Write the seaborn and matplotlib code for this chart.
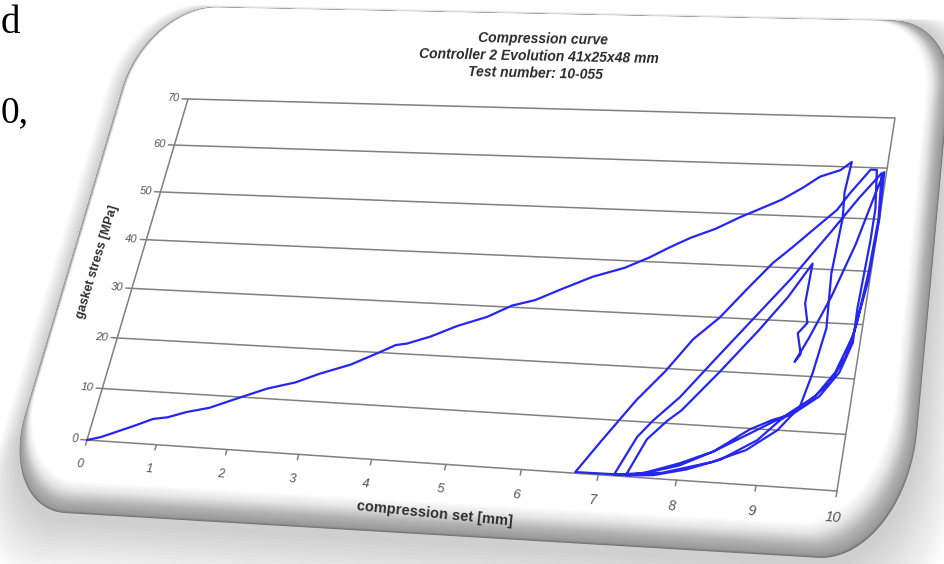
import numpy as np
import pandas as pd
import matplotlib
matplotlib.use("Agg")
import matplotlib.pyplot as plt
from matplotlib.transforms import Transform, Affine2D
from matplotlib.patches import Polygon
import seaborn as sns

# ---------------------------------------------------------------------------
# Compression test record: compression set [mm] and gasket stress [MPa],
# one list pair per step of the test, in test order.
# ---------------------------------------------------------------------------
load_1_x = [0.0, 0.18, 0.6, 0.85, 1.05, 1.29, 1.6, 1.9, 2.33, 2.7, 3.0, 3.4, 3.76,
            3.95, 4.1, 4.4, 4.73, 5.1, 5.4, 5.7, 6.0, 6.4, 6.8, 7.1, 7.35, 7.6,
            7.9, 8.2, 8.5, 8.7, 8.95, 9.15, 9.4, 9.53]
load_1_y = [0.0, 0.7, 3.2, 4.8, 5.3, 6.5, 7.6, 9.4, 11.9, 13.4, 15.3, 17.4, 20.1,
            21.6, 22.0, 23.6, 25.9, 27.9, 30.3, 31.6, 33.8, 36.6, 38.6, 40.8, 43.0,
            45.0, 46.9, 49.4, 51.6, 53.1, 55.6, 57.9, 59.3, 61.0]

unload_1_x = [9.53, 9.50, 9.53, 9.50, 9.55, 9.47, 9.38, 9.15, 8.80, 8.40, 7.80, 7.30, 6.70]
unload_1_y = [61.0, 55.0, 50.0, 39.3, 29.0, 20.7, 14.5, 10.0, 6.1, 3.6, 1.1, 0.3, 0.2]

reload_1_x = [6.70, 6.94, 7.30, 7.60, 7.88, 8.17, 8.45, 8.73, 8.95, 9.17, 9.44, 9.57, 9.79]
reload_1_y = [0.2, 5.8, 13.9, 19.5, 25.7, 30.0, 35.5, 40.8, 44.0, 47.4, 51.5, 54.8, 59.6]

unload_2_x = [9.79, 9.87, 9.93, 9.93, 9.90, 9.91, 9.80, 9.60, 9.30, 9.07, 8.80, 8.40,
              8.00, 7.60, 7.20]
unload_2_y = [59.6, 59.6, 52.0, 45.8, 33.0, 26.6, 21.0, 16.5, 13.0, 11.8, 9.8, 5.5,
              2.6, 0.9, 0.2]

reload_2_x = [7.20, 7.40, 7.56, 7.85, 8.20, 8.60, 9.00, 9.40, 9.70, 9.94]
reload_2_y = [0.2, 7.2, 10.3, 14.9, 22.0, 30.0, 38.0, 47.0, 54.0, 59.0]

unload_3_x = [9.94, 9.99, 9.97, 9.92, 9.85, 9.70, 9.45, 9.16, 8.92, 8.50, 8.10, 7.70, 7.35]
unload_3_y = [59.0, 50.0, 40.0, 30.0, 24.0, 19.0, 15.0, 11.8, 8.0, 4.1, 2.0, 0.6, 0.2]

reload_3_x = [7.35, 7.53, 7.74, 7.90, 8.30, 8.70, 9.00, 9.24]
reload_3_y = [0.2, 6.9, 10.4, 12.5, 20.0, 28.0, 34.5, 41.0]

partial_x = [9.24, 9.23, 9.30, 9.20, 9.28, 9.22]
partial_y = [41.0, 33.4, 29.8, 27.8, 24.0, 22.5]

reload_4_x = [9.22, 9.35, 9.55, 9.75, 9.90, 9.97]
reload_4_y = [22.5, 27.0, 35.0, 45.0, 55.0, 59.2]

unload_4_x = [9.97, 10.00, 9.98, 9.90, 9.75, 9.55, 9.20, 8.80, 8.40, 8.00, 7.60, 7.40]
unload_4_y = [59.2, 50.0, 38.0, 28.0, 21.0, 16.5, 12.5, 9.0, 5.5, 3.0, 1.0, 0.3]

x_ticks = list(range(0, 11))
y_ticks = list(range(0, 71, 10))
title_lines = ["Compression curve",
               "Controller 2 Evolution 41x25x48 mm",
               "Test number: 10-055"]
x_label = "compression set [mm]"
y_label = "gasket stress [MPa]"
slide_words = ["d", "0,"]

# ---------------------------------------------------------------------------
# Figure and the perspective mapping (the chart sits on a tilted card)
# ---------------------------------------------------------------------------
W, H = 945, 564
sns.set_style("white")
plt.rcParams["font.family"] = ["Liberation Sans", "DejaVu Sans"]

fig = plt.figure(figsize=(W / 100, H / 100), dpi=100)
ax = fig.add_axes([0, 0, 1, 1])
ax.set_axis_off()
ax.patch.set_visible(False)


class Perspective(Transform):
    """Projective (homography) mapping of 2-D points."""
    input_dims = 2
    output_dims = 2
    is_separable = False
    has_inverse = True

    def __init__(self, matrix):
        super().__init__()
        self.matrix = np.asarray(matrix, float)

    def transform_non_affine(self, values):
        v = np.asarray(values, float)
        one = v.ndim == 1
        v = v.reshape(-1, 2)
        p = np.column_stack([v, np.ones(len(v))]) @ self.matrix.T
        out = p[:, :2] / p[:, 2:3]
        return out[0] if one else out

    def inverted(self):
        return Perspective(np.linalg.inv(self.matrix))


def homography(src, dst):
    rows, rhs = [], []
    for (x, y), (X, Y) in zip(src, dst):
        rows.append([x, y, 1, 0, 0, 0, -X * x, -X * y]); rhs.append(X)
        rows.append([0, 0, 0, x, y, 1, -Y * x, -Y * y]); rhs.append(Y)
    h = np.linalg.solve(np.array(rows, float), np.array(rhs, float))
    return np.append(h, 1.0).reshape(3, 3)


# pixel space (origin top-left) -> figure
px_trans = Affine2D().scale(1 / W, -1 / H).translate(0, 1) + fig.transFigure

# plot frame: data corners -> pixel corners
x_lim, y_lim = (0, 10), (0, 70)
frame_px = [(87, 440), (837, 491), (895, 118), (188, 99)]
data_trans = Perspective(homography(
    [(x_lim[0], y_lim[0]), (x_lim[1], y_lim[0]), (x_lim[1], y_lim[1]), (x_lim[0], y_lim[1])],
    frame_px)) + px_trans

# card: unit square -> pixel corners
card_px = [(-3, 509), (905, 563), (955, 22), (147, 6)]
card_trans = Perspective(homography([(0, 0), (1, 0), (1, 1), (0, 1)], card_px)) + px_trans


def rounded(x0, x1, y0, y1, radii, n=22):
    (rbl, rbr, rtr, rtl) = radii
    pts = []
    for cx, cy, a0, (rx, ry) in [(x1 - rbr[0], y0 + rbr[1], -90, rbr),
                                 (x1 - rtr[0], y1 - rtr[1], 0, rtr),
                                 (x0 + rtl[0], y1 - rtl[1], 90, rtl),
                                 (x0 + rbl[0], y0 + rbl[1], 180, rbl)]:
        t = np.radians(np.linspace(a0, a0 + 90, n))
        pts.append(np.column_stack([cx + rx * np.cos(t), cy + ry * np.sin(t)]))
    return np.vstack(pts)


radii = [(0.08, 0.17), (0.09, 0.22), (0.07, 0.14), (0.09, 0.18)]

# soft drop shadow
for k in range(16, 0, -1):
    e = k * 0.0032
    poly = rounded(-e * 0.4, 1 + e * 0.9, -e * 2.0 - 0.01, 1 + e * 0.1, radii)
    ax.add_artist(Polygon(poly, closed=True, transform=card_trans, facecolor="black",
                          edgecolor="none", alpha=0.011, zorder=0.1))

# bevelled card edge, shading from the rim towards the white face
ins_l, ins_r, ins_b, ins_t = 0.004, 0.026, 0.056, 0.0015
stops_t = [0.0, 0.06, 0.35, 0.7, 1.0]
stops_g = [0.45, 0.60, 0.70, 0.90, 1.0]
steps = 44
for i in range(steps + 1):
    t = i / steps
    g = float(np.interp(t, stops_t, stops_g))
    poly = rounded(ins_l * t, 1 - ins_r * t, ins_b * t, 1 - ins_t * t, radii)
    ax.add_artist(Polygon(poly, closed=True, transform=card_trans, facecolor=(g, g, g),
                          edgecolor="none", zorder=0.2 + 0.001 * i))

# ---------------------------------------------------------------------------
# Chart frame, grid and ticks
# ---------------------------------------------------------------------------
grid_c = "#808080"
for yv in y_ticks:
    ax.plot([x_lim[0], x_lim[1]], [yv, yv], color=grid_c, lw=1.1,
            transform=data_trans, zorder=1, solid_capstyle="butt")
    ax.plot([x_lim[0], x_lim[0] - 0.09], [yv, yv], color=grid_c, lw=1.1,
            transform=data_trans, zorder=1)
for xv in x_ticks:
    ax.plot([xv, xv], [0, -1.0], color=grid_c, lw=1.1, transform=data_trans, zorder=1)
for xv in x_lim:
    ax.plot([xv, xv], [y_lim[0], y_lim[1]], color=grid_c, lw=1.1,
            transform=data_trans, zorder=1)

# ---------------------------------------------------------------------------
# The compression curve
# ---------------------------------------------------------------------------
steps_xy = [(load_1_x, load_1_y), (unload_1_x, unload_1_y), (reload_1_x, reload_1_y),
            (unload_2_x, unload_2_y), (reload_2_x, reload_2_y), (unload_3_x, unload_3_y),
            (reload_3_x, reload_3_y), (partial_x, partial_y), (reload_4_x, reload_4_y),
            (unload_4_x, unload_4_y)]
curve = pd.concat([pd.DataFrame({"set": sx, "stress": sy, "step": i})
                   for i, (sx, sy) in enumerate(steps_xy)], ignore_index=True)

n_before = len(ax.lines)
sns.lineplot(data=curve, x="set", y="stress", sort=False, estimator=None,
             color="#2626f2", lw=1.6, ax=ax, zorder=3)
for ln in ax.lines[n_before:]:
    ln.set_transform(data_trans)
ax.set_axis_off()


# ---------------------------------------------------------------------------
# Text, oriented and sized along the tilted plane
# ---------------------------------------------------------------------------
def angle_at(x, y, dx, dy):
    p = data_trans.transform(np.array([(x, y), (x + dx, y + dy)], float))
    return float(np.degrees(np.arctan2(p[1, 1] - p[0, 1], p[1, 0] - p[0, 0])))


def scale_at(x, y):
    p = data_trans.transform(np.array([(x, y), (x + 0.5, y)], float))
    return float(np.hypot(*(p[1] - p[0])))


ref_scale = scale_at(5, 35)

for xv in x_ticks:
    s = scale_at(xv, -4.5) / ref_scale
    ax.text(xv, -4.6, str(xv), transform=data_trans, ha="center", va="center",
            rotation=angle_at(xv, -4.6, 1, 0), rotation_mode="anchor",
            fontsize=9.2 * s, style="italic", color="#555555", zorder=4)

for yv in y_ticks:
    s = scale_at(-0.2, yv) / ref_scale
    ax.text(-0.13, yv, str(yv), transform=data_trans, ha="right", va="center",
            rotation=angle_at(-0.13, yv, 1, 0), rotation_mode="anchor",
            fontsize=8.8 * s, style="italic", color="#555555", zorder=4)

ax.text(5.0, -9.0, x_label, transform=data_trans, ha="center", va="center",
        rotation=angle_at(5.0, -9.0, 1, 0) - 1.5, rotation_mode="anchor",
        fontsize=10.5, fontweight="bold", color="#2e2e2e", zorder=4)
ax.text(-0.62, 35, y_label, transform=data_trans, ha="center", va="center",
        rotation=angle_at(-0.62, 35, 0, 1), rotation_mode="anchor",
        fontsize=9.0, fontweight="bold", color="#2e2e2e", zorder=4)

for line, yv in zip(title_lines, [84.7, 80.9, 77.3]):
    ax.text(5.0, yv, line, transform=data_trans, ha="center", va="center",
            rotation=angle_at(5.0, yv, 1, 0), rotation_mode="anchor",
            fontsize=10.0, fontweight="bold", style="italic", color="#2a2a2a", zorder=4)

# words of the surrounding slide text at the left margin
serif = ["Liberation Serif", "DejaVu Serif"]
ax.text(1, 33, slide_words[0], transform=px_trans, ha="left", va="baseline",
        fontsize=28, family=serif, color="black", zorder=5)
ax.text(1, 122, slide_words[1], transform=px_trans, ha="left", va="baseline",
        fontsize=27, family=serif, color="black", zorder=5)

fig.savefig("out.png", dpi=100)
